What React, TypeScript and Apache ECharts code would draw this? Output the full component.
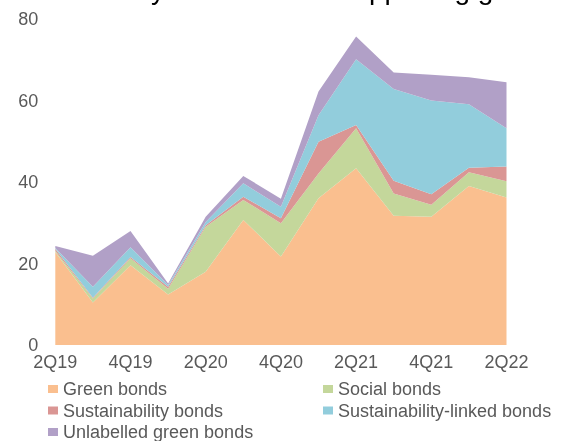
import React, { useEffect, useRef } from "react";
import * as echarts from "echarts";

const quarters = ["2Q19", "3Q19", "4Q19", "1Q20", "2Q20", "3Q20", "4Q20", "1Q21", "2Q21", "3Q21", "4Q21", "1Q22", "2Q22"];
const greenBonds = [22.8, 10.4, 19.6, 12.4, 18.0, 30.7, 21.7, 36.0, 43.4, 31.7, 31.5, 39.0, 36.2];
const socialBonds = [0.3, 1.0, 1.7, 1.4, 11.0, 4.9, 8.2, 6.1, 9.8, 5.5, 2.9, 3.4, 4.0];
const sustainabilityBonds = [0.5, 0.2, 0.3, 0.5, 0.4, 0.8, 1.2, 7.8, 0.8, 3.1, 2.6, 1.1, 3.6];
const sustainabilityLinkedBonds = [0.2, 2.7, 2.4, 0.4, 0.8, 3.3, 2.8, 6.5, 16.1, 22.5, 23.0, 15.6, 9.4];
const unlabelledGreenBonds = [0.5, 7.6, 4.0, 0.4, 1.3, 1.8, 2.0, 5.8, 5.6, 4.1, 6.3, 6.6, 11.3];
const yTicks = { min: 0, max: 80, interval: 20 };

const titleText = "Sustainability-linked bonds supporting growth";

const seriesDefs = [
  { name: "Green bonds", data: greenBonds, color: "#FABF8F" },
  { name: "Social bonds", data: socialBonds, color: "#C4D79B" },
  { name: "Sustainability bonds", data: sustainabilityBonds, color: "#DA9694" },
  { name: "Sustainability-linked bonds", data: sustainabilityLinkedBonds, color: "#92CDDC" },
  { name: "Unlabelled green bonds", data: unlabelledGreenBonds, color: "#B1A0C7" },
];

const FONT = "'Liberation Sans', Arial, sans-serif";
const GREY = "#595959";

export default function App() {
  const ref = useRef<HTMLDivElement>(null);
  useEffect(() => {
    if (!ref.current) return;
    const chart = echarts.init(ref.current, null, { renderer: "svg" });
    const legendText = { color: GREY, fontSize: 18, fontFamily: FONT };
    const legendCommon = {
      top: 380,
      height: 80,
      padding: 0,
      orient: "vertical",
      itemWidth: 10,
      itemHeight: 8,
      itemGap: 3.5,
      icon: "rect",
      textStyle: legendText,
    };
    chart.setOption({
      animation: false,
      textStyle: { fontFamily: FONT },
      graphic: [
        {
          type: "text",
          left: 0,
          top: -25,
          style: { text: titleText, fontSize: 28, fontFamily: FONT, fill: "#000000" },
        },
      ],
      grid: { left: 55.3, right: 54.5, top: 19, bottom: 96 },
      legend: [
        {
          ...legendCommon,
          left: 48,
          data: ["Green bonds", "Sustainability bonds", "Unlabelled green bonds"],
        },
        {
          ...legendCommon,
          left: 323,
          data: ["Social bonds", "Sustainability-linked bonds"],
        },
      ],
      xAxis: {
        type: "category",
        data: quarters,
        boundaryGap: false,
        axisLine: { show: false },
        axisTick: { show: false },
        axisLabel: { interval: 1, color: GREY, fontSize: 18, fontFamily: FONT, margin: 8 },
      },
      yAxis: {
        type: "value",
        min: yTicks.min,
        max: yTicks.max,
        interval: yTicks.interval,
        splitLine: { show: false },
        axisLine: { show: false },
        axisTick: { show: false },
        axisLabel: { color: GREY, fontSize: 18, fontFamily: FONT, margin: 17 },
      },
      series: seriesDefs.map((s) => ({
        name: s.name,
        type: "line",
        stack: "total",
        data: s.data,
        symbol: "none",
        lineStyle: { width: 0 },
        areaStyle: { color: s.color, opacity: 1 },
        itemStyle: { color: s.color },
      })),
    });
    return () => chart.dispose();
  }, []);
  return (
    <div
      ref={ref}
      style={{ position: "fixed", left: 0, top: 0, width: 561, height: 441 }}
    />
  );
}
